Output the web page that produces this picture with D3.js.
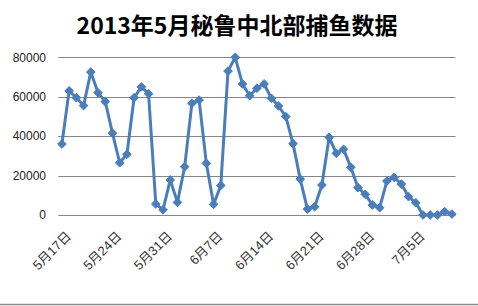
<!DOCTYPE html>
<html>
<head>
<meta charset="utf-8">
<script src="https://cdn.jsdelivr.net/npm/d3@7"></script>
<style>
  body { margin: 0; background: #fff; }
  svg { display: block; }
</style>
</head>
<body>
<svg id="chart" width="478" height="306"></svg>
<script>
// daily categories, 5/17 .. 7/10
var dates = [
  "5月17日","5月18日","5月19日","5月20日","5月21日","5月22日","5月23日","5月24日","5月25日","5月26日",
  "5月27日","5月28日","5月29日","5月30日","5月31日",
  "6月1日","6月2日","6月3日","6月4日","6月5日","6月6日","6月7日","6月8日","6月9日","6月10日",
  "6月11日","6月12日","6月13日","6月14日","6月15日","6月16日","6月17日","6月18日","6月19日","6月20日",
  "6月21日","6月22日","6月23日","6月24日","6月25日","6月26日","6月27日","6月28日","6月29日","6月30日",
  "7月1日","7月2日","7月3日","7月4日","7月5日","7月6日","7月7日","7月8日","7月9日","7月10日"
];

var catch_values = [
  36000, 63000, 59500, 55500, 72500, 62000, 57500, 41500, 26500, 30800,
  59500, 65000, 61500, 5600, 2600, 17800, 6400, 24500, 56700, 58300,
  26200, 5400, 15000, 73000, 80000, 66500, 60500, 64300, 66500, 59200,
  55300, 49900, 36200, 18200, 3000, 4200, 15200, 39400, 31300, 33300,
  24200, 13900, 10500, 5100, 3700, 17200, 19100, 15700, 9300, 6200,
  0, 0, 0, 1700, 500
];

var tickLabels = ["5月17日","5月24日","5月31日","6月7日","6月14日","6月21日","6月28日","7月5日"];
var yTicks = [0, 20000, 40000, 60000, 80000];

var titleText = "2013年5月秘鲁中北部捕鱼数据";

var svg = d3.select("#chart");
var blue = "#4A7EBB";
var grid = "#868686";

var x = d3.scaleBand().domain(dates).range([58.3, 455.5]).padding(0);
var y = d3.scaleLinear().domain([0, 80000]).range([215, 57.3]);

function cx(d) { return x(d) + x.bandwidth() / 2; }

// title
svg.append("text")
  .attr("x", 237)
  .attr("y", 34)
  .attr("text-anchor", "middle")
  .style("font-family", "'Noto Sans CJK SC', sans-serif")
  .style("font-weight", "bold")
  .style("font-size", "23px")
  .attr("fill", "#000")
  .text(titleText);

// gridlines
svg.append("g").selectAll("line")
  .data(yTicks)
  .enter().append("line")
  .attr("x1", 58.3).attr("x2", 455.5)
  .attr("y1", function (d) { return Math.round(y(d)) + 0.5; })
  .attr("y2", function (d) { return Math.round(y(d)) + 0.5; })
  .attr("stroke", grid)
  .attr("stroke-width", 1);

// y axis labels
var yAxis = d3.axisLeft(y).tickValues(yTicks).tickSize(0).tickPadding(0)
  .tickFormat(function (d) { return String(d); });
var yg = svg.append("g").attr("transform", "translate(46,0)").call(yAxis);
yg.select(".domain").remove();
yg.selectAll("text")
  .style("font-family", "'Liberation Sans', Arial, sans-serif")
  .style("font-size", "12px")
  .attr("fill", "#222");

// x axis labels, every 7th category
var xAxis = d3.axisBottom(x).tickValues(tickLabels).tickSize(0).tickPadding(0);
var xg = svg.append("g").attr("transform", "translate(0,215)").call(xAxis);
xg.select(".domain").remove();
xg.selectAll("text")
  .attr("y", 0)
  .attr("dy", 0)
  .attr("text-anchor", "end")
  .attr("transform", "translate(10,22) rotate(-45)")
  .style("font-family", "'Liberation Sans', 'Noto Sans CJK SC', sans-serif")
  .style("font-size", "13px")
  .attr("fill", "#333");

// line
var line = d3.line()
  .x(function (d, i) { return cx(dates[i]); })
  .y(function (d) { return y(d); });

svg.append("path")
  .datum(catch_values)
  .attr("d", line)
  .attr("fill", "none")
  .attr("stroke", blue)
  .attr("stroke-width", 3)
  .attr("stroke-linejoin", "round");

// diamond markers
var diamond = d3.symbol().type(d3.symbolDiamond2).size(48);
svg.append("g").selectAll("path")
  .data(catch_values)
  .enter().append("path")
  .attr("d", diamond)
  .attr("transform", function (d, i) {
    return "translate(" + cx(dates[i]) + "," + y(d) + ")";
  })
  .attr("fill", blue)
  .attr("stroke", blue)
  .attr("stroke-width", 1);

// bottom frame line
svg.append("line")
  .attr("x1", 0).attr("x2", 478)
  .attr("y1", 304.5).attr("y2", 304.5)
  .attr("stroke", "#8c8c8c")
  .attr("stroke-width", 1.5);
</script>
</body>
</html>
